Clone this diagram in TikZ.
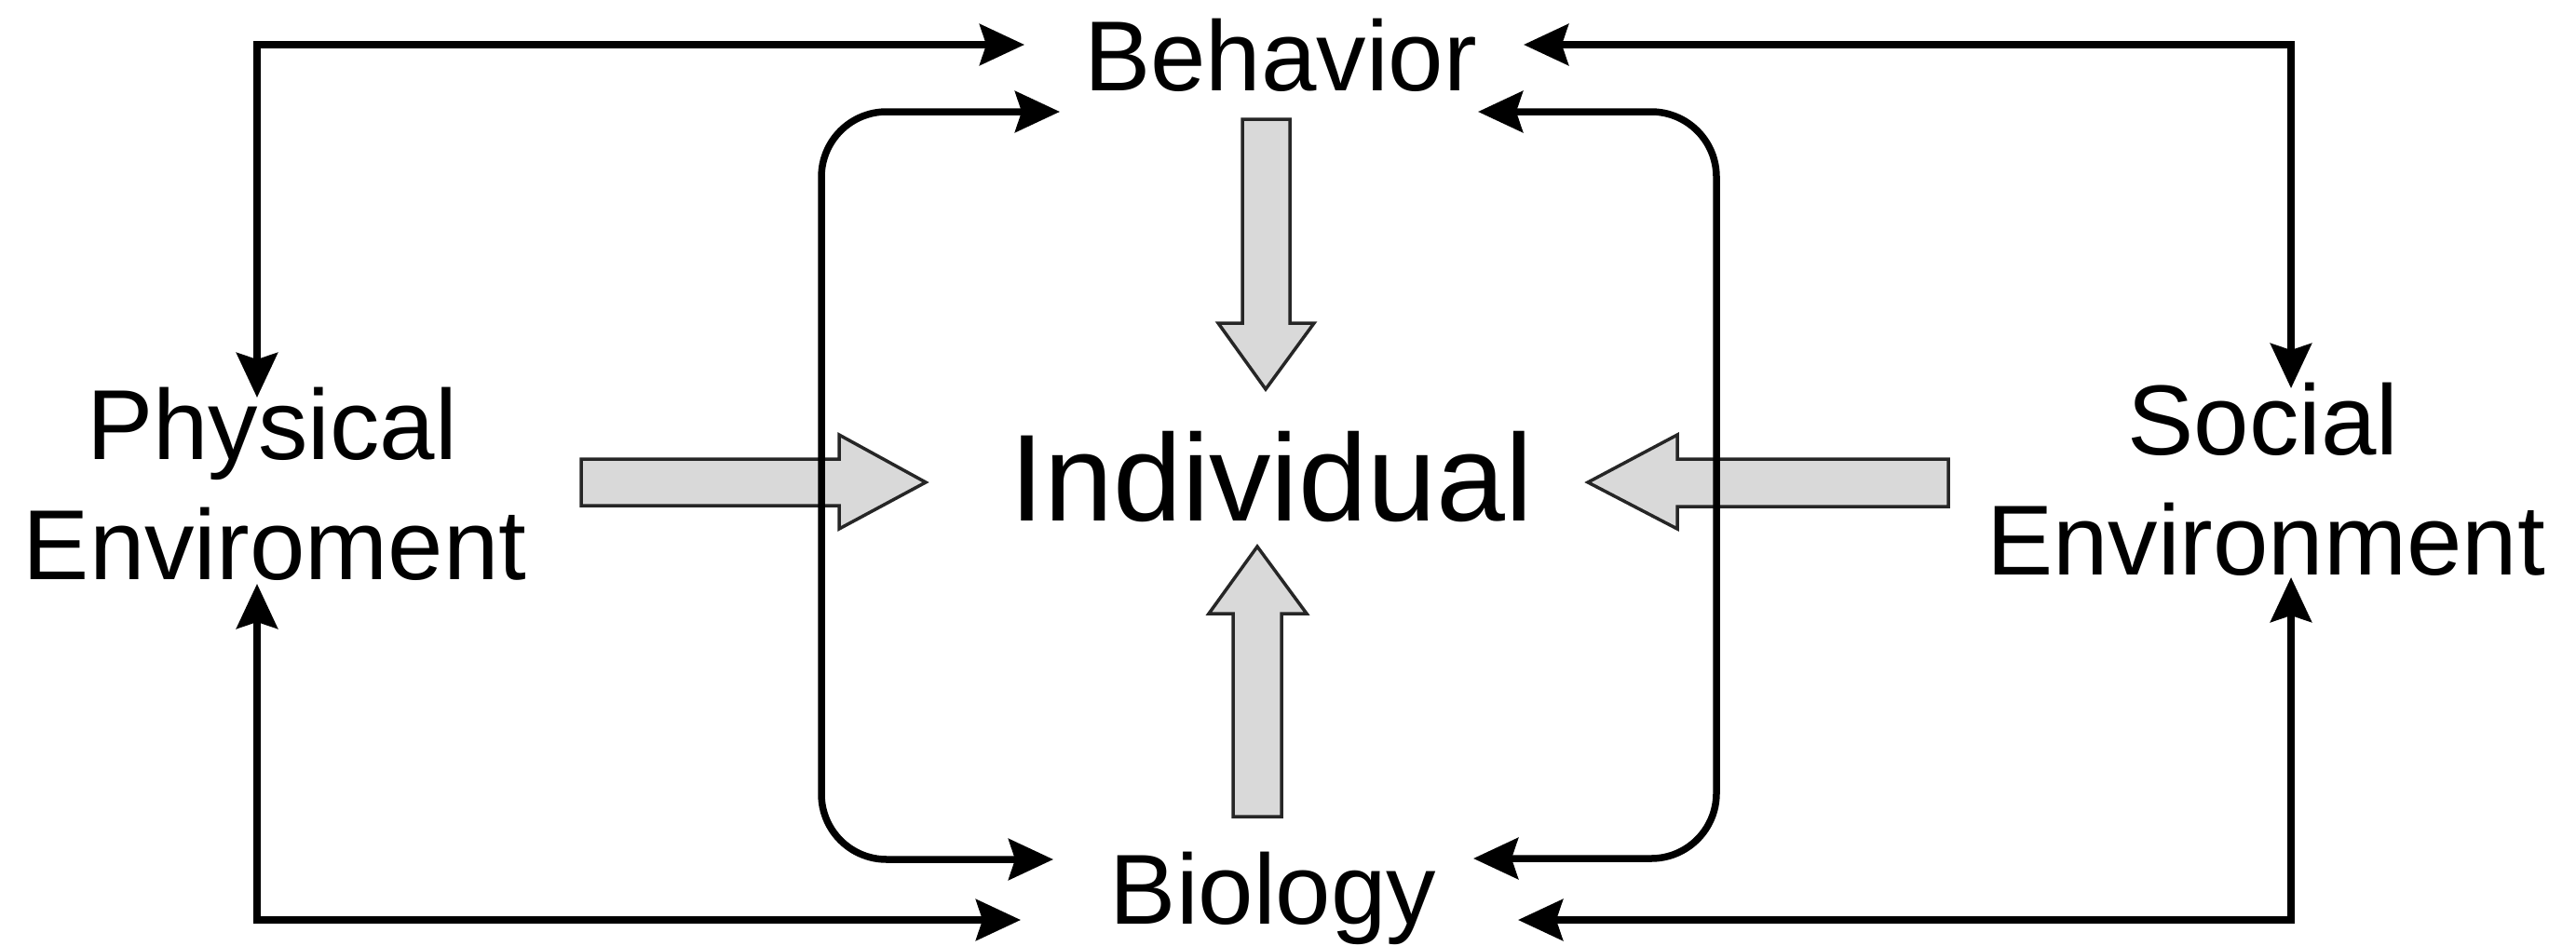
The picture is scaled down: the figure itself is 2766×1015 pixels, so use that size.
\documentclass[tikz,border=0pt]{standalone}
\usepackage{fontspec}
\setmainfont{Liberation Sans}
\usetikzlibrary{arrows.meta}
\begin{document}
\begin{tikzpicture}[x=0.1mm,y=-0.1mm,
  lbl/.style={anchor=base,inner sep=0pt,font=\fontsize{30.4pt}{36pt}\selectfont},
  biglbl/.style={anchor=base,inner sep=0pt,font=\fontsize{37.8pt}{45pt}\selectfont},
  link/.style={line width=0.75mm,{Stealth[length=4.8mm,width=4.4mm,inset=0.7mm]}-{Stealth[length=4.8mm,width=4.4mm,inset=0.7mm]}},
  innerlink/.style={link,rounded corners=7mm},
  block/.style={draw=black!85,line width=0.35mm,fill=gray!30,line join=miter}]
\useasboundingbox (0,0) rectangle (2766,1015);
% text nodes
\node[lbl] (beh) at (1375,97) {Behavior};
\node[lbl] (bio) at (1367,992) {Biology};
\node[biglbl] (ind) at (1365,559) {Individual};
\node[lbl] (phys) at (292,493) {Physical};
\node[lbl] (physb) at (295,622) {Enviroment};
\node[lbl] (soc) at (2430,488) {Social};
\node[lbl] (socb) at (2433,617) {Environment};
% gray block arrows
\draw[block] (1334,128) -- (1385,128) -- (1385,347) -- (1411,347) -- (1359,418) -- (1308,347) -- (1334,347) -- cycle;
\draw[block] (1324,877) -- (1376,877) -- (1376,659) -- (1403,659) -- (1350,587) -- (1298,659) -- (1324,659) -- cycle;
\draw[block] (624,493) -- (901,493) -- (901,467) -- (994,518) -- (901,568) -- (901,543) -- (624,543) -- cycle;
\draw[block] (2092,493) -- (1801,493) -- (1801,467) -- (1705,518) -- (1801,568) -- (1801,544) -- (2092,544) -- cycle;
% connector end points
\coordinate (tlA) at (276,427);
\coordinate (tlB) at (1100,48);
\coordinate (blA) at (276,627);
\coordinate (blB) at (1096,988);
\coordinate (trA) at (1636,48);
\coordinate (trB) at (2460,417);
\coordinate (brA) at (1630,988);
\coordinate (brB) at (2460,620);
\coordinate (ilA) at (1138,120);
\coordinate (ilB) at (1131,923);
\coordinate (irA) at (1587,120);
\coordinate (irB) at (1582,922);
% outer connectors
\draw[link] (tlA) |- (tlB);
\draw[link] (blA) |- (blB);
\draw[link] (trA) -| (trB);
\draw[link] (brA) -| (brB);
% inner rounded connectors
\draw[innerlink] (ilA) -- (882,120) -- (882,923) -- (ilB);
\draw[innerlink] (irA) -- (1843,120) -- (1843,922) -- (irB);
\end{tikzpicture}
\end{document}
